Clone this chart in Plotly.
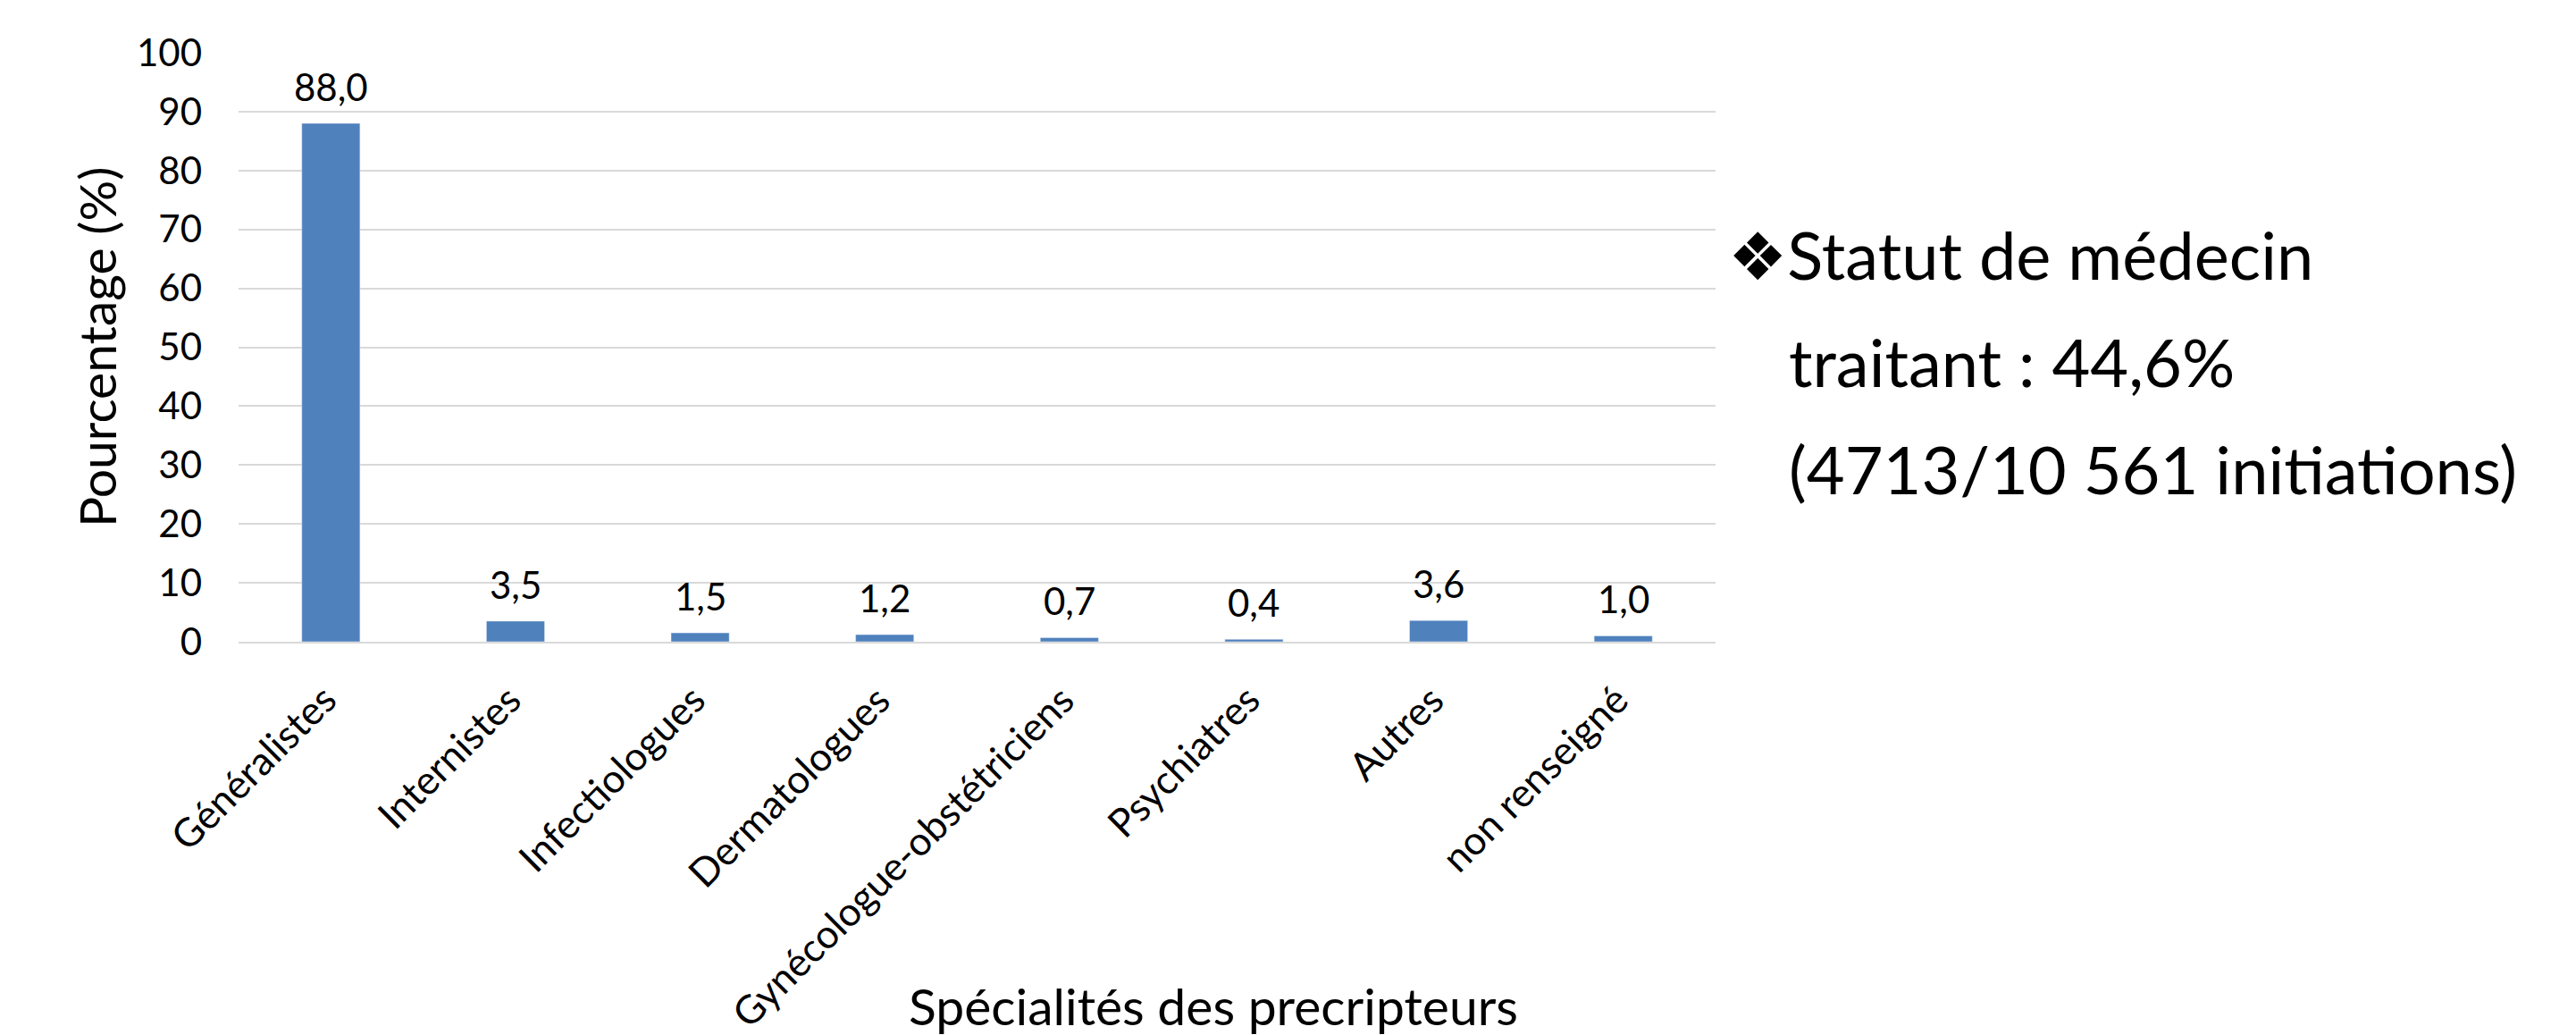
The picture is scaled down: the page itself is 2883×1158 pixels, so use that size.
import plotly.graph_objects as go

categories = ["Généralistes", "Internistes", "Infectiologues", "Dermatologues",
              "Gynécologue-obstétriciens", "Psychiatres", "Autres", "non renseigné"]
values = [88.0, 3.5, 1.5, 1.2, 0.7, 0.4, 3.6, 1.0]
y_ticks = [0, 10, 20, 30, 40, 50, 60, 70, 80, 90, 100]

note_lines = ["❖Statut de médecin", "traitant : 44,6%", "(4713/10 561 initiations)"]
x_title = "Spécialités des precripteurs"
y_title = "Pourcentage (%)"

W, H = 2883, 1158
L, R, T, B = 267, 1920, 59, 718
pw, ph = R - L, B - T

def px(x):
    return (x - L) / pw

def py(y):
    return (B - y) / ph

FONT = "Lato, 'DejaVu Sans', sans-serif"
labels = [f"{v:.1f}".replace(".", ",") for v in values]

fig = go.Figure(go.Bar(
    x=categories, y=values, marker_color="#4F81BD", width=0.315,
    hoverinfo="skip"))

annotations = []
# value labels above bars
for c, v, t in zip(categories, values, labels):
    annotations.append(dict(x=c, y=v, xref="x", yref="y", text=t, showarrow=False,
                            yanchor="bottom", yshift=14,
                            font=dict(family=FONT, size=42, color="black")))
# rotated category labels
for c in categories:
    annotations.append(dict(x=c, y=py(753), xref="x", yref="paper", text=c, showarrow=False,
                            xanchor="right", yanchor="top", textangle=-45, xshift=18,
                            font=dict(family=FONT, size=44, color="black")))

annotations.append(dict(x=px(1932), y=py(284), xref="paper", yref="paper", text=note_lines[0],
                        showarrow=False, xanchor="left", yanchor="middle",
                        font=dict(family=FONT, size=74, color="black")))
for i, line in enumerate(note_lines[1:]):
    annotations.append(dict(x=px(2000), y=py(404 + 120 * i), xref="paper", yref="paper", text=line,
                            showarrow=False, xanchor="left", yanchor="middle",
                            font=dict(family=FONT, size=74, color="black")))

annotations.append(dict(x=px(1358), y=py(1125), xref="paper", yref="paper", text=x_title,
                        showarrow=False, xanchor="center", yanchor="middle",
                        font=dict(family=FONT, size=57, color="black")))
annotations.append(dict(x=px(108), y=py(389), xref="paper", yref="paper", text=y_title,
                        showarrow=False, xanchor="center", yanchor="middle", textangle=-90,
                        font=dict(family=FONT, size=57, color="black")))

fig.update_layout(
    width=W, height=H,
    margin=dict(l=L, r=W - R, t=T, b=H - B, autoexpand=False),
    paper_bgcolor="white", plot_bgcolor="white",
    showlegend=False,
    annotations=annotations,
    font=dict(family=FONT, color="black"),
)
fig.update_yaxes(range=[0, 100], tickvals=y_ticks, showgrid=True, gridcolor="#D9D9D9",
                 gridwidth=2, zeroline=False, showline=False, ticks="",
                 ticklabelstandoff=40,
                 tickfont=dict(family=FONT, size=42, color="black"), fixedrange=True)
fig.update_xaxes(range=[-0.5, len(categories) - 0.5], showgrid=False, showline=True,
                 linecolor="#D9D9D9", linewidth=2,
                 ticks="", showticklabels=False, fixedrange=True)

fig.write_html("out.html", config={"displayModeBar": False},
               post_script="document.body.style.margin='0px';document.body.style.overflow='hidden';")
